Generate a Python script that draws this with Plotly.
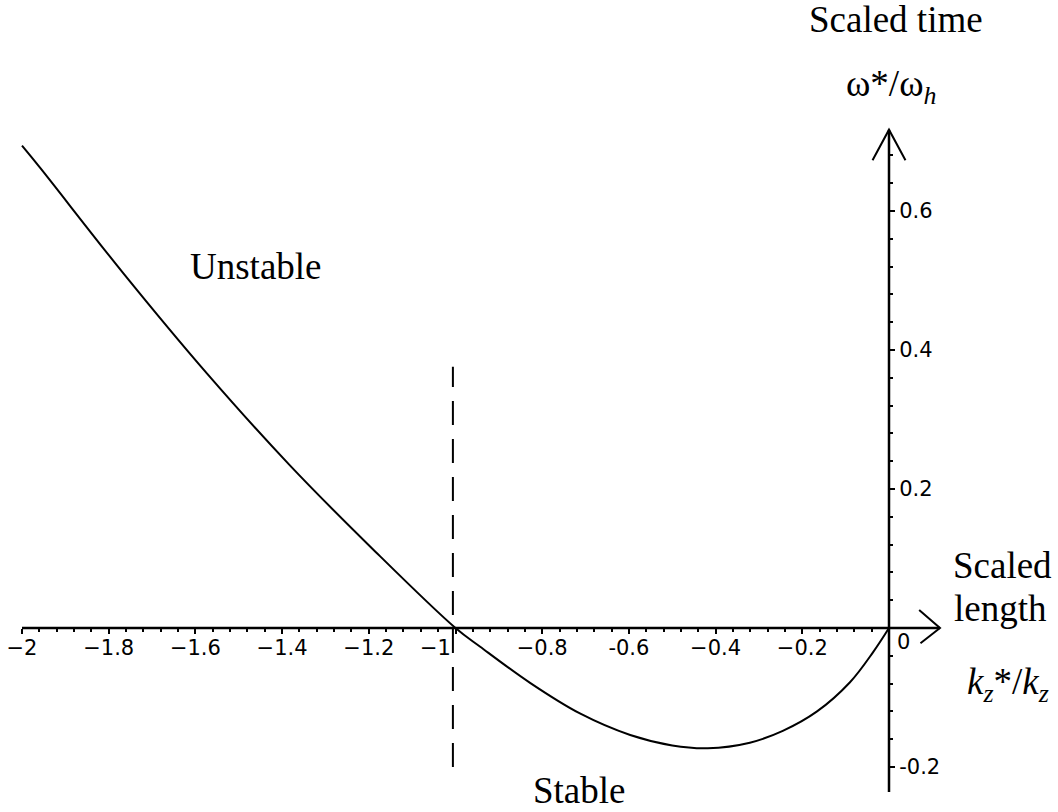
import plotly.graph_objects as go

# curve (scaled length vs scaled time)
k_ratio = [-2.0, -1.958, -1.767, -1.573, -1.382, -1.190, -1.0, -0.943, -0.828,
           -0.713, -0.597, -0.5, -0.418, -0.321, -0.245, -0.166, -0.090, -0.037, 0.0]
w_ratio = [0.694, 0.662, 0.511, 0.366, 0.234, 0.113, 0.0, -0.027, -0.079,
           -0.123, -0.154, -0.169, -0.173, -0.165, -0.148, -0.120, -0.078, -0.035, 0.0]

# vertical dashed marker
marker_x = [-1.006, -1.006]
marker_y = [-0.2, 0.376]

# tick labels
x_ticks = [-2, -1.8, -1.6, -1.4, -1.2, -1, -0.8, -0.6, -0.4, -0.2]
x_labels = ['\u22122', '\u22121.8', '\u22121.6', '\u22121.4', '\u22121.2',
            '\u22121' + '\u00a0' * 6, '\u22120.8', '-0.6', '\u22120.4', '\u22120.2']
y_ticks = [-0.2, 0.2, 0.4, 0.6]
y_labels = ['-0.2', '0.2', '0.4', '0.6']

W, H = 1058, 812
# pixel placement of the origin and scale (from the picture)
ox, oy = 889, 628
sx, sy = 433.5, 695.0
xr = [(0 - ox) / sx, (W - ox) / sx]
yr = [(oy - H) / sy, (oy - 0) / sy]

x_end = 0.1176   # end of the x axis arrow
y_lo, y_hi = -0.236, 0.717

x_minor = [round(-2 + 0.04 * i, 2) for i in range(51)]
y_minor = [round(-0.2 + 0.04 * i, 2) for i in range(23)]

fig = go.Figure()
fig.add_trace(go.Scatter(x=k_ratio, y=w_ratio, mode='lines',
                         line=dict(color='black', width=2, shape='spline', smoothing=1.0),
                         hoverinfo='skip'))
fig.add_trace(go.Scatter(x=marker_x, y=marker_y, mode='lines',
                         line=dict(color='black', width=2, dash='24px,14px'),
                         hoverinfo='skip'))

ln = dict(color='black', width=2.5)
# axis lines and open arrow heads
fig.add_shape(type='line', x0=-2, y0=0, x1=x_end, y1=0, line=ln)
fig.add_shape(type='path', path='M %f %f L %f 0 L %f %f' % (x_end - 0.048, 0.026, x_end, x_end - 0.045, -0.022),
              line=dict(color='black', width=2))
fig.add_shape(type='line', x0=0, y0=y_lo, x1=0, y1=y_hi, line=ln)
fig.add_shape(type='path', path='M %f %f L 0 %f L %f %f' % (-0.038, y_hi - 0.044, y_hi, 0.038, y_hi - 0.044),
              line=dict(color='black', width=2))

serif = dict(family='Liberation Serif', size=37, color='black')
tickfont = dict(family='DejaVu Sans', size=21, color='black')


def label(text, px, py, font=serif):
    fig.add_annotation(x=px / W, y=1 - py / H, xref='paper', yref='paper', text=text,
                       showarrow=False, font=font, xanchor='center', yanchor='middle')


label('Scaled time', 896, 20)
label('\u03c9*/\u03c9<sub><i>h</i></sub>', 891, 87)
label('Unstable', 256, 266)
label('Stable', 579, 790)
label('Scaled', 1002, 565)
label('length', 1000, 608)
label('<i>k</i><sub><i>z</i></sub>*/<i>k</i><sub><i>z</i></sub>', 1008, 684)
label('0', 903, 642, tickfont)

fig.update_layout(
    width=W, height=H,
    margin=dict(l=0, r=0, t=0, b=0),
    paper_bgcolor='white', plot_bgcolor='white',
    showlegend=False,
    xaxis=dict(range=xr, showgrid=False, zeroline=False, showline=False,
               anchor='free', position=(H - oy) / H, side='bottom',
               tickmode='array', tickvals=x_ticks, ticktext=x_labels,
               ticks='outside', ticklen=5, tickwidth=1.5, tickcolor='black',
               tickfont=tickfont, ticklabelstandoff=-4,
               minor=dict(tickmode='array', tickvals=x_minor, ticks='outside',
                          ticklen=3, tickwidth=1.5, tickcolor='black')),
    yaxis=dict(range=yr, showgrid=False, zeroline=False, showline=False,
               anchor='free', position=ox / W, side='right',
               tickmode='array', tickvals=y_ticks, ticktext=y_labels,
               ticks='outside', ticklen=5, tickwidth=1.5, tickcolor='black',
               tickfont=tickfont,
               minor=dict(tickmode='array', tickvals=y_minor, ticks='outside',
                          ticklen=3, tickwidth=1.5, tickcolor='black')),
)

fig.write_html('out.html', config={'displayModeBar': False},
               post_script="document.body.style.margin='0';")
